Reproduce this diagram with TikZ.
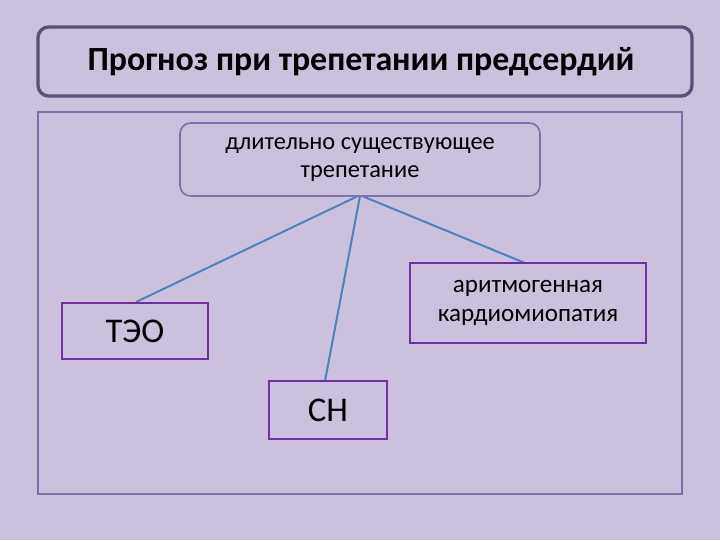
\documentclass[tikz,border=0pt]{standalone}
\usepackage{fontspec}
\setmainfont{Carlito}
\definecolor{bg}{HTML}{CBC1DC}
\definecolor{tb}{HTML}{5A5078}
\definecolor{fr}{HTML}{8070A8}
\definecolor{pb}{HTML}{7030A0}
\definecolor{ln}{HTML}{4F81BD}
\begin{document}
\begin{tikzpicture}[x=0.75pt,y=-0.75pt,
  pbox/.style={draw=pb,line width=1.5pt,fill=bg,align=center,inner sep=0pt},
  conn/.style={draw=ln,line width=1.5pt}]
\fill[bg] (0,0) rectangle (720,540);
\useasboundingbox (0,0) rectangle (720,540);
\node[draw=tb,line width=2.5pt,rounded corners=8pt,minimum width=654*0.75pt,minimum height=69*0.75pt] (title) at (365,61.5) {};
\node[font=\fontsize{25.4}{30}\selectfont\bfseries] (tt) at (361,62) {Прогноз при трепетании предсердий};
\node[draw=fr,line width=1.3pt,minimum width=644*0.75pt,minimum height=382*0.75pt] (frame) at (360,303) {};
\draw[conn] (358,196) coordinate (s1) -- (136,302) coordinate (e1);
\draw[conn] (360,196) -- (325,381);
\draw[conn] (362,196) -- (525,263);
\node[draw=fr,line width=1.2pt,rounded corners=8pt,fill=bg,minimum width=360*0.75pt,minimum height=73*0.75pt,align=center,font=\fontsize{18.3}{21}\selectfont] (top) at (360,159.5) {длительно существующее\\трепетание};
\node[pbox,minimum width=146*0.75pt,minimum height=56*0.75pt,font=\fontsize{26}{30}\selectfont] (teo) at (135,331) {ТЭО};
\node[pbox,minimum width=236*0.75pt,minimum height=80*0.75pt,font=\fontsize{18.8}{22}\selectfont] (ak) at (528,303) {аритмогенная\\кардиомиопатия};
\node[pbox,minimum width=118*0.75pt,minimum height=58*0.75pt,font=\fontsize{26}{30}\selectfont] (sn) at (328,410) {СН};
\end{tikzpicture}
\end{document}
